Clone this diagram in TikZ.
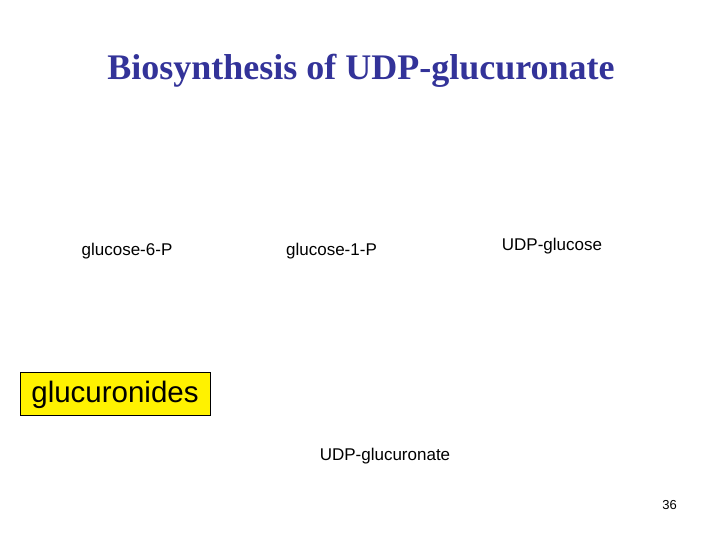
\documentclass[tikz,border=0pt]{standalone}
\usepackage{fontspec}
\setmainfont{Liberation Sans}
\newfontfamily\titlefont{Liberation Serif}
\definecolor{titleblue}{RGB}{51,51,153}
\begin{document}
\begin{tikzpicture}[x=1pt,y=-1pt,
  lbl/.style={anchor=base,inner sep=0pt,font=\fontsize{17}{20}\selectfont},
  boxed/.style={draw=black,fill=yellow,line width=0.8pt,inner sep=0pt,minimum width=190pt,minimum height=43pt,text height=22pt,text depth=4pt,font=\fontsize{29.5}{34}\selectfont}]
\useasboundingbox (0,0) rectangle (720,540);
\node[anchor=base,inner sep=0pt,text=titleblue,font=\titlefont\bfseries\fontsize{36}{40}\selectfont] (title) at (361,80) {Biosynthesis of UDP-glucuronate};
\node[lbl] (g6p) at (127,255) {glucose-6-P};
\node[lbl] (g1p) at (331.5,255) {glucose-1-P};
\node[lbl] (udpg) at (552,250) {UDP-glucose};
\node[lbl] (udpga) at (385,460) {UDP-glucuronate};
\node[boxed] (gluc) at (115,393.5) {glucuronides};
\node[anchor=base,inner sep=0pt,font=\fontsize{13}{15}\selectfont] (page) at (669.5,509) {36};
\end{tikzpicture}
\end{document}
